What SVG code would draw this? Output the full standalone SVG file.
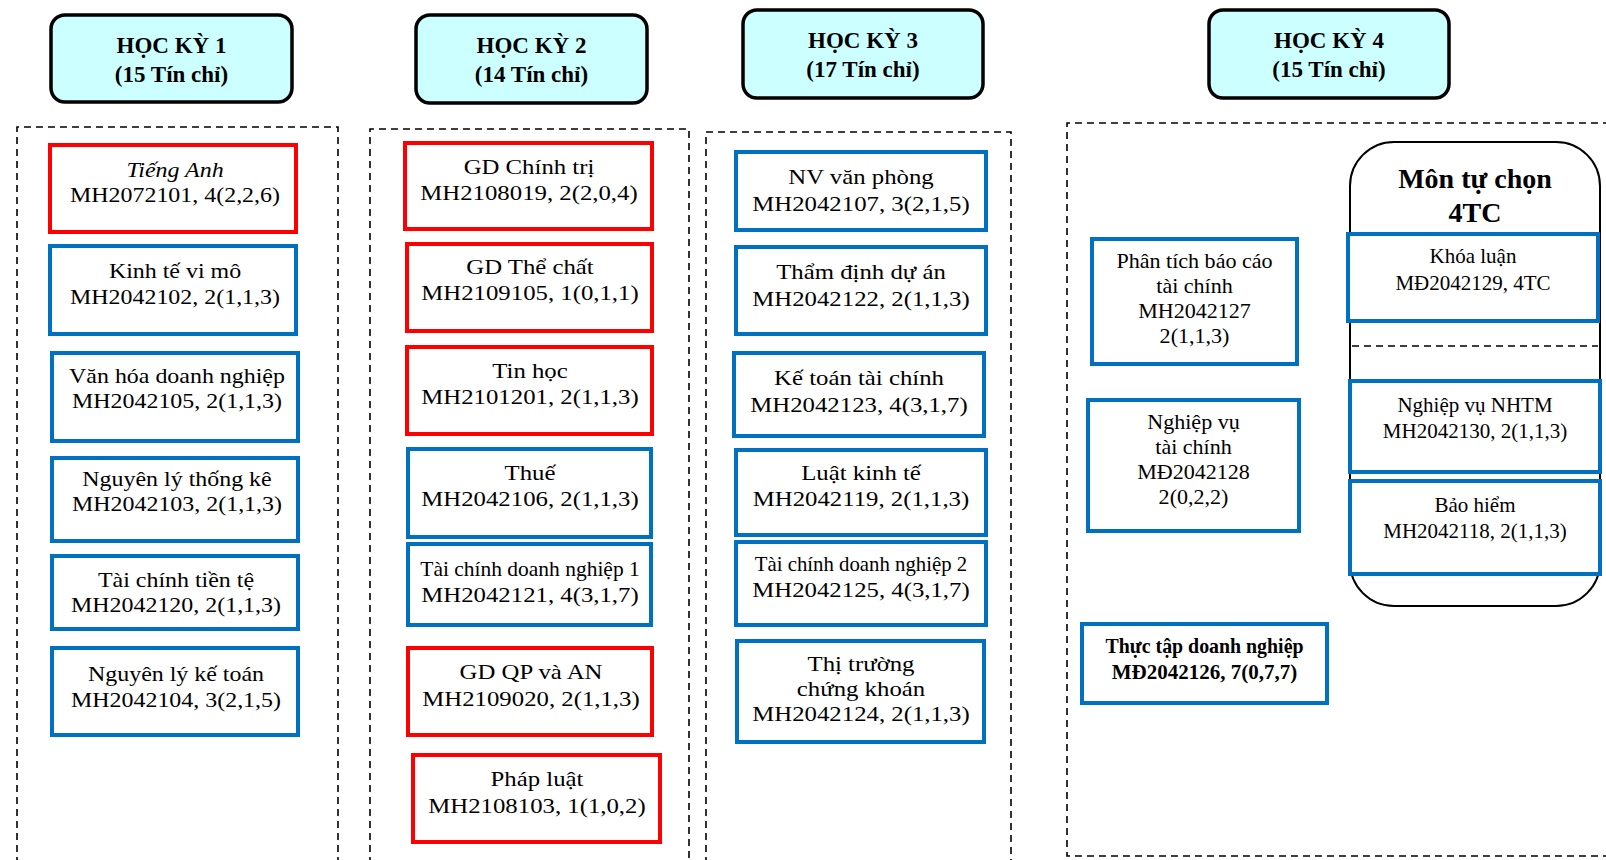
<svg xmlns="http://www.w3.org/2000/svg" width="1606" height="860" viewBox="0 0 1606 860">
  <style>
    .bg { fill: #ffffff; }
    .head { fill: #ccffff; stroke: #000000; stroke-width: 3.5; }
    .head-t { font-family: "Liberation Serif", "Times New Roman", serif; font-size: 23px; font-weight: bold; fill: #000000; text-anchor: middle; }
    .frame { fill: none; stroke: #000000; stroke-width: 1.6; stroke-dasharray: 7 5; }
    .red { fill: #ffffff; stroke: #ff0000; stroke-width: 4; }
    .blue { fill: #ffffff; stroke: #0070c0; stroke-width: 4; }
    .t { font-family: "Liberation Serif", "Times New Roman", serif; font-size: 21px; fill: #000000; text-anchor: middle; }
    .it { font-style: italic; }
    .b { font-weight: bold; }
    .group-box { fill: #ffffff; stroke: #000000; stroke-width: 2; }
    .group-t { font-family: "Liberation Serif", "Times New Roman", serif; font-size: 28px; font-weight: bold; fill: #000000; text-anchor: middle; }
    .sep { fill: none; stroke: #000000; stroke-width: 1.6; stroke-dasharray: 7 5; }
  </style>
  <rect class="bg" x="0" y="0" width="1606" height="860"/>

  <!-- semester frames -->
  <g id="frames">
    <path class="frame" d="M17,864 V127 H338 V864"/>
    <path class="frame" d="M370,864 V129 H689 V864"/>
    <path class="frame" d="M706,864 V132 H1011 V864"/>
    <path class="frame" d="M1610,123 H1067 V856 H1610"/>
  </g>

  <!-- semester headers -->
  <g id="hk1">
    <rect class="head" x="51" y="15" width="241" height="87" rx="14"/>
    <text class="head-t" x="171.5" y="53">HỌC KỲ 1</text>
    <text class="head-t" x="171.5" y="82">(15 Tín chỉ)</text>
  </g>
  <g id="hk2">
    <rect class="head" x="416" y="15" width="231" height="88" rx="14"/>
    <text class="head-t" x="531.5" y="53">HỌC KỲ 2</text>
    <text class="head-t" x="531.5" y="82">(14 Tín chỉ)</text>
  </g>
  <g id="hk3">
    <rect class="head" x="743" y="10" width="240" height="88" rx="14"/>
    <text class="head-t" x="863" y="48">HỌC KỲ 3</text>
    <text class="head-t" x="863" y="77">(17 Tín chỉ)</text>
  </g>
  <g id="hk4">
    <rect class="head" x="1209" y="10" width="240" height="88" rx="14"/>
    <text class="head-t" x="1329" y="48">HỌC KỲ 4</text>
    <text class="head-t" x="1329" y="77">(15 Tín chỉ)</text>
  </g>

  <!-- semester 1 (labels drawn slightly wide) -->
  <g id="tieng-anh">
    <rect class="red" x="50" y="145" width="246" height="87"/>
    <g transform="translate(175 0) scale(1.14 1)">
      <text class="t it" x="0" y="177">Tiếng Anh</text>
      <text class="t" x="0" y="202">MH2072101, 4(2,2,6)</text>
    </g>
  </g>
  <g id="kinh-te-vi-mo">
    <rect class="blue" x="50" y="246" width="246" height="88"/>
    <g transform="translate(175 0) scale(1.14 1)">
      <text class="t" x="0" y="278">Kinh tế vi mô</text>
      <text class="t" x="0" y="304">MH2042102, 2(1,1,3)</text>
    </g>
  </g>
  <g id="van-hoa-dn">
    <rect class="blue" x="52" y="353" width="246" height="88"/>
    <g transform="translate(177 0) scale(1.14 1)">
      <text class="t" x="0" y="383">Văn hóa doanh nghiệp</text>
      <text class="t" x="0" y="408">MH2042105, 2(1,1,3)</text>
    </g>
  </g>
  <g id="nguyen-ly-thong-ke">
    <rect class="blue" x="52" y="458" width="246" height="83"/>
    <g transform="translate(177 0) scale(1.14 1)">
      <text class="t" x="0" y="486">Nguyên lý thống kê</text>
      <text class="t" x="0" y="511">MH2042103, 2(1,1,3)</text>
    </g>
  </g>
  <g id="tai-chinh-tien-te">
    <rect class="blue" x="52" y="556" width="246" height="73"/>
    <g transform="translate(176 0) scale(1.14 1)">
      <text class="t" x="0" y="587">Tài chính tiền tệ</text>
      <text class="t" x="0" y="612">MH2042120, 2(1,1,3)</text>
    </g>
  </g>
  <g id="nguyen-ly-ke-toan">
    <rect class="blue" x="52" y="648" width="246" height="87"/>
    <g transform="translate(176 0) scale(1.14 1)">
      <text class="t" x="0" y="681">Nguyên lý kế toán</text>
      <text class="t" x="0" y="707">MH2042104, 3(2,1,5)</text>
    </g>
  </g>

  <!-- semester 2 -->
  <g id="gd-chinh-tri">
    <rect class="red" x="405" y="143" width="247" height="86"/>
    <g transform="translate(529 0) scale(1.18 1)">
      <text class="t" x="0" y="174">GD Chính trị</text>
      <text class="t" x="0" y="200">MH2108019, 2(2,0,4)</text>
    </g>
  </g>
  <g id="gd-the-chat">
    <rect class="red" x="407" y="244" width="245" height="87"/>
    <g transform="translate(530 0) scale(1.18 1)">
      <text class="t" x="0" y="274">GD Thể chất</text>
      <text class="t" x="0" y="300">MH2109105, 1(0,1,1)</text>
    </g>
  </g>
  <g id="tin-hoc">
    <rect class="red" x="407" y="347" width="245" height="87"/>
    <g transform="translate(530 0) scale(1.18 1)">
      <text class="t" x="0" y="378">Tin học</text>
      <text class="t" x="0" y="404">MH2101201, 2(1,1,3)</text>
    </g>
  </g>
  <g id="thue">
    <rect class="blue" x="408" y="449" width="243" height="88"/>
    <g transform="translate(530 0) scale(1.18 1)">
      <text class="t" x="0" y="480">Thuế</text>
      <text class="t" x="0" y="506">MH2042106, 2(1,1,3)</text>
    </g>
  </g>
  <g id="tcdn-1">
    <rect class="blue" x="408" y="544" width="243" height="81"/>
    <g transform="translate(530 0) scale(1.18 1)">
      <text class="t" x="0" y="576" textLength="186" lengthAdjust="spacingAndGlyphs">Tài chính doanh nghiệp 1</text>
      <text class="t" x="0" y="602">MH2042121, 4(3,1,7)</text>
    </g>
  </g>
  <g id="gd-qp-an">
    <rect class="red" x="408" y="648" width="244" height="87"/>
    <g transform="translate(531 0) scale(1.18 1)">
      <text class="t" x="0" y="679">GD QP và AN</text>
      <text class="t" x="0" y="706">MH2109020, 2(1,1,3)</text>
    </g>
  </g>
  <g id="phap-luat">
    <rect class="red" x="413" y="755" width="247" height="87"/>
    <g transform="translate(537 0) scale(1.18 1)">
      <text class="t" x="0" y="786">Pháp luật</text>
      <text class="t" x="0" y="813">MH2108103, 1(1,0,2)</text>
    </g>
  </g>

  <!-- semester 3 -->
  <g id="nv-van-phong">
    <rect class="blue" x="736" y="152" width="250" height="78"/>
    <g transform="translate(861 0) scale(1.18 1)">
      <text class="t" x="0" y="184">NV văn phòng</text>
      <text class="t" x="0" y="211">MH2042107, 3(2,1,5)</text>
    </g>
  </g>
  <g id="tham-dinh-du-an">
    <rect class="blue" x="736" y="247" width="250" height="87"/>
    <g transform="translate(861 0) scale(1.18 1)">
      <text class="t" x="0" y="279">Thẩm định dự án</text>
      <text class="t" x="0" y="306">MH2042122, 2(1,1,3)</text>
    </g>
  </g>
  <g id="ke-toan-tai-chinh">
    <rect class="blue" x="734" y="353" width="250" height="83"/>
    <g transform="translate(859 0) scale(1.18 1)">
      <text class="t" x="0" y="385">Kế toán tài chính</text>
      <text class="t" x="0" y="412">MH2042123, 4(3,1,7)</text>
    </g>
  </g>
  <g id="luat-kinh-te">
    <rect class="blue" x="736" y="450" width="250" height="85"/>
    <g transform="translate(861 0) scale(1.18 1)">
      <text class="t" x="0" y="480">Luật kinh tế</text>
      <text class="t" x="0" y="506">MH2042119, 2(1,1,3)</text>
    </g>
  </g>
  <g id="tcdn-2">
    <rect class="blue" x="736" y="542" width="250" height="83"/>
    <g transform="translate(861 0) scale(1.18 1)">
      <text class="t" x="0" y="571" textLength="180" lengthAdjust="spacingAndGlyphs">Tài chính doanh nghiệp 2</text>
      <text class="t" x="0" y="597">MH2042125, 4(3,1,7)</text>
    </g>
  </g>
  <g id="thi-truong-ck">
    <rect class="blue" x="737" y="641" width="247" height="101"/>
    <g transform="translate(861 0) scale(1.18 1)">
      <text class="t" x="0" y="671">Thị trường</text>
      <text class="t" x="0" y="696">chứng khoán</text>
      <text class="t" x="0" y="721">MH2042124, 2(1,1,3)</text>
    </g>
  </g>

  <!-- semester 4 -->
  <g id="ptbctc">
    <rect class="blue" x="1092" y="239" width="205" height="125"/>
    <g transform="translate(1194.5 0) scale(1.05 1)">
      <text class="t" x="0" y="268">Phân tích báo cáo</text>
      <text class="t" x="0" y="293">tài chính</text>
      <text class="t" x="0" y="318">MH2042127</text>
      <text class="t" x="0" y="343">2(1,1,3)</text>
    </g>
  </g>
  <g id="nvtc">
    <rect class="blue" x="1088" y="400" width="211" height="131"/>
    <g transform="translate(1193.5 0) scale(1.05 1)">
      <text class="t" x="0" y="429">Nghiệp vụ</text>
      <text class="t" x="0" y="454">tài chính</text>
      <text class="t" x="0" y="479">MĐ2042128</text>
      <text class="t" x="0" y="504">2(0,2,2)</text>
    </g>
  </g>
  <g id="thuc-tap">
    <rect class="blue" x="1082" y="624" width="245" height="79"/>
    <text class="t b" x="1204.5" y="653" textLength="198" lengthAdjust="spacingAndGlyphs">Thực tập doanh nghiệp</text>
    <text class="t b" x="1204.5" y="679">MĐ2042126, 7(0,7,7)</text>
  </g>

  <!-- elective block -->
  <g id="tu-chon">
    <rect class="group-box" x="1350" y="142" width="250" height="464" rx="44"/>
    <text class="group-t" x="1475" y="188">Môn tự chọn</text>
    <text class="group-t" x="1475" y="222">4TC</text>
    <line class="sep" x1="1352" y1="346" x2="1598" y2="346"/>
  </g>
  <g id="khoa-luan">
    <rect class="blue" x="1348" y="234" width="250" height="87"/>
    <text class="t" x="1473" y="263">Khóa luận</text>
    <text class="t" x="1473" y="290">MĐ2042129, 4TC</text>
  </g>
  <g id="nghiep-vu-nhtm">
    <rect class="blue" x="1350" y="381" width="250" height="91"/>
    <text class="t" x="1475" y="412">Nghiệp vụ NHTM</text>
    <text class="t" x="1475" y="438">MH2042130, 2(1,1,3)</text>
  </g>
  <g id="bao-hiem">
    <rect class="blue" x="1350" y="481" width="250" height="93"/>
    <text class="t" x="1475" y="512">Bảo hiểm</text>
    <text class="t" x="1475" y="538">MH2042118, 2(1,1,3)</text>
  </g>
</svg>
